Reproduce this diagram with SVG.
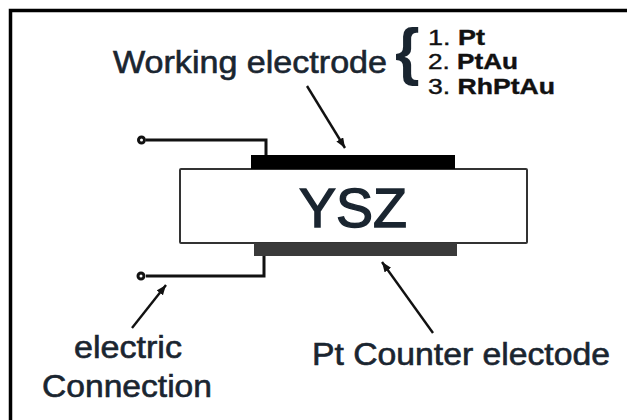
<svg xmlns="http://www.w3.org/2000/svg" width="627" height="420" viewBox="0 0 627 420">
<style>
text{font-family:"Liberation Sans",Arial,sans-serif;fill:#1a2530;stroke:#1a2530;stroke-width:.6}
.l{font-size:31px}
.n{font-size:22px;fill:#111;stroke:#111;stroke-width:.4}
.b{font-weight:bold}
.w{fill:none;stroke:#111;stroke-width:3}
.a{fill:none;stroke:#111;stroke-width:2.4;marker-end:url(#h)}
</style>
<defs><marker id="h" markerUnits="userSpaceOnUse" markerWidth="12" markerHeight="10" refX="10" refY="4" orient="auto"><path d="M0 0L10 4L0 8z" fill="#111"/></marker></defs>
<rect width="627" height="420" fill="#fff"/>
<path d="M10.5 420V10.5H627" fill="none" stroke="#000" stroke-width="3.5"/>
<g id="substrate"><rect x="180" y="169" width="347" height="74" rx="1" fill="#fff" stroke="#333" stroke-width="2"/><text x="299" y="227" textLength="108" lengthAdjust="spacingAndGlyphs" style="font-size:55px;stroke-width:1.4">YSZ</text></g>
<g id="working-electrode"><rect x="251" y="155" width="204" height="14" fill="#000"/><text class="l" x="113" y="72.5" textLength="274" lengthAdjust="spacingAndGlyphs">Working electrode</text></g>
<g id="counter-electrode"><rect x="254" y="243" width="203" height="13" fill="#3a3a3a"/><text class="l" x="312" y="365" textLength="298" lengthAdjust="spacingAndGlyphs">Pt Counter electode</text></g>
<g id="materials"><text class="b" x="395" y="72.5" style="font-size:63px;stroke:none">{</text>
<text class="n" x="428" y="45" textLength="57" lengthAdjust="spacingAndGlyphs">1. <tspan class="b">Pt</tspan></text>
<text class="n" x="428" y="69" textLength="90" lengthAdjust="spacingAndGlyphs">2. <tspan class="b">PtAu</tspan></text>
<text class="n" x="428" y="94" textLength="127" lengthAdjust="spacingAndGlyphs">3. <tspan class="b">RhPtAu</tspan></text></g>
<g id="electric-connection"><text class="l" x="74" y="358" textLength="108" lengthAdjust="spacingAndGlyphs">electric</text><text class="l" x="42" y="397" textLength="170" lengthAdjust="spacingAndGlyphs">Connection</text></g>
<g id="connectors">
<path class="w" d="M146 140H266V155M146 276H264V256"/>
<circle cx="141.500" cy="140" r="3" fill="#fff" stroke="#111" stroke-width="3"/><circle cx="141" cy="276" r="3" fill="#fff" stroke="#111" stroke-width="3"/>
<path class="a" d="M307 86L345 148"/><path class="a" d="M132 328L166 285"/><path class="a" d="M433 333L382 262"/>
</g>
</svg>
